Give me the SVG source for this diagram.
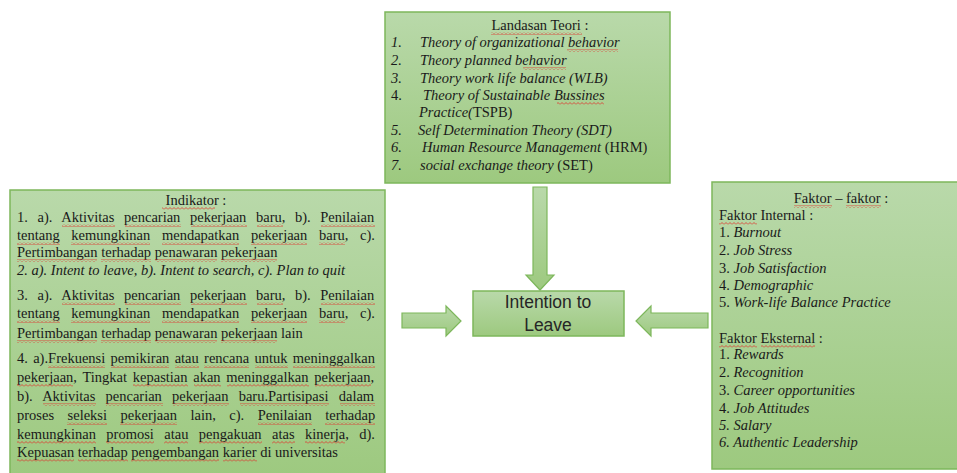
<svg xmlns="http://www.w3.org/2000/svg" width="957" height="473" viewBox="0 0 957 473">
<defs>
<linearGradient id="gf" x1="0" y1="0" x2="0" y2="1">
<stop offset="0" stop-color="#b9d9aa"/>
<stop offset="1" stop-color="#9dc97f"/>
</linearGradient>
<pattern id="sq" patternUnits="userSpaceOnUse" width="4" height="3">
<polyline points="0,2.5 2,0.5 4,2.5" fill="none" stroke="#e0302a" stroke-width="0.8"/>
</pattern>
<style>
.box{fill:url(#gf);stroke:#7db75b;stroke-width:1.5}
.arr{fill:url(#gf);stroke:#7db75b;stroke-width:1.2}
text{font-family:"Liberation Serif","Times New Roman",serif;font-size:14.5px;fill:#1a1a1a}
.i{font-style:italic}
.c{text-anchor:middle}
.e{text-anchor:end}
.ct{font-family:"Liberation Sans",Arial,sans-serif;font-size:17.5px;fill:#262626;text-anchor:middle}
.s{fill:url(#sq)}
</style>
</defs>

<g id="connectors">
<polygon class="arr" points="533,187 547,187 547,275 554,275 540,290 526,275 533,275"/>
<polygon class="arr" points="402,313 446,313 446,306 461,321 446,336 446,328 402,328"/>
<polygon class="arr" points="708,313 651,313 651,306 636,321 651,336 651,328 708,328"/>
</g>

<g id="landasan-teori">
<rect class="box" x="385" y="12" width="285" height="171"/>
<text class="c" x="540" y="30">Landasan Teori :</text>
<text class="i" x="391" y="47">1.</text><text class="i" x="420" y="47">Theory of organizational behavior</text>
<text class="i" x="391" y="65">2.</text><text class="i" x="420" y="65">Theory planned behavior</text>
<text class="i" x="391" y="83">3.</text><text class="i" x="420" y="83">Theory work life balance (WLB)</text>
<text x="391" y="100">4.</text><text class="i" x="423" y="100">Theory of Sustainable Bussines</text>
<text x="419" y="117"><tspan class="i">Practice(</tspan>TSPB)</text>
<text class="i" x="391" y="135">5.</text><text class="i" x="418" y="135">Self Determination Theory (SDT)</text>
<text class="i" x="391" y="152">6.</text><text x="422" y="152"><tspan class="i">Human Resource Management</tspan> (HRM)</text>
<text class="i" x="391" y="170">7.</text><text x="420" y="170"><tspan class="i">social exchange theory</tspan> (SET)</text>
<rect class="s" x="491" y="32" width="91" height="3"/>
<rect class="s" x="567" y="49" width="51" height="3"/>
<rect class="s" x="523" y="67" width="43" height="3"/>
<rect class="s" x="557" y="102" width="47" height="3"/>
</g>

<g id="intention-to-leave">
<rect class="box" x="473" y="291" width="151" height="45"/>
<text class="ct" x="548" y="308">Intention to</text>
<text class="ct" x="548" y="331">Leave</text>
</g>

<g id="indikator">
<rect class="box" x="10" y="190" width="375" height="290"/>
<text class="c" x="196" y="205">Indikator :</text>
<text x="17" y="222" style="word-spacing:6px">1. a). Aktivitas pencarian pekerjaan baru, b). Penilaian</text>
<text x="17" y="240" style="word-spacing:8.05px">tentang kemungkinan mendapatkan pekerjaan baru, c).</text>
<text x="17" y="257">Pertimbangan terhadap penawaran pekerjaan</text>
<text class="i" x="17" y="275">2. a). Intent to leave, b). Intent to search, c). Plan to quit</text>
<text x="17" y="300" style="word-spacing:6px">3. a). Aktivitas pencarian pekerjaan baru, b). Penilaian</text>
<text x="17" y="318" style="word-spacing:8.05px">tentang kemungkinan mendapatkan pekerjaan baru, c).</text>
<text x="17" y="338">Pertimbangan terhadap penawaran pekerjaan lain</text>
<text x="17" y="363" style="word-spacing:1.68px">4. a).Frekuensi pemikiran atau rencana untuk meninggalkan</text>
<text x="17" y="382" style="word-spacing:2.1px">pekerjaan, Tingkat kepastian akan meninggalkan pekerjaan,</text>
<text x="17" y="401" style="word-spacing:6.6px">b). Aktivitas pencarian pekerjaan baru.Partisipasi dalam</text>
<text x="17" y="420" style="word-spacing:9.9px">proses seleksi pekerjaan lain, c). Penilaian terhadap</text>
<text x="17" y="439" style="word-spacing:6.77px">kemungkinan promosi atau pengakuan atas kinerja, d).</text>
<text x="17" y="457">Kepuasan terhadap pengembangan karier di universitas</text>
<rect class="s" x="162" y="207" width="53" height="3"/>
<rect class="s" x="62" y="224" width="53" height="3"/><rect class="s" x="125" y="224" width="56" height="3"/><rect class="s" x="191" y="224" width="56" height="3"/><rect class="s" x="257" y="224" width="26" height="3"/><rect class="s" x="321" y="224" width="54" height="3"/>
<rect class="s" x="17" y="242" width="43" height="3"/><rect class="s" x="71" y="242" width="79" height="3"/><rect class="s" x="162" y="242" width="77" height="3"/><rect class="s" x="251" y="242" width="56" height="3"/><rect class="s" x="319" y="242" width="26" height="3"/>
<rect class="s" x="17" y="259" width="80" height="3"/><rect class="s" x="101" y="259" width="50" height="3"/><rect class="s" x="155" y="259" width="62" height="3"/><rect class="s" x="221" y="259" width="56" height="3"/>
<rect class="s" x="62" y="302" width="53" height="3"/><rect class="s" x="125" y="302" width="56" height="3"/><rect class="s" x="191" y="302" width="56" height="3"/><rect class="s" x="257" y="302" width="26" height="3"/><rect class="s" x="321" y="302" width="54" height="3"/>
<rect class="s" x="17" y="320" width="43" height="3"/><rect class="s" x="71" y="320" width="79" height="3"/><rect class="s" x="162" y="320" width="77" height="3"/><rect class="s" x="251" y="320" width="56" height="3"/><rect class="s" x="319" y="320" width="26" height="3"/>
<rect class="s" x="17" y="340" width="80" height="3"/><rect class="s" x="101" y="340" width="50" height="3"/><rect class="s" x="155" y="340" width="62" height="3"/><rect class="s" x="221" y="340" width="56" height="3"/>
<rect class="s" x="48" y="365" width="57" height="3"/><rect class="s" x="111" y="365" width="58" height="3"/><rect class="s" x="175" y="365" width="24" height="3"/><rect class="s" x="204" y="365" width="45" height="3"/><rect class="s" x="255" y="365" width="33" height="3"/><rect class="s" x="293" y="365" width="82" height="3"/>
<rect class="s" x="17" y="384" width="56" height="3"/><rect class="s" x="133" y="384" width="55" height="3"/><rect class="s" x="194" y="384" width="27" height="3"/><rect class="s" x="227" y="384" width="82" height="3"/><rect class="s" x="315" y="384" width="56" height="3"/>
<rect class="s" x="43" y="403" width="53" height="3"/><rect class="s" x="106" y="403" width="57" height="3"/><rect class="s" x="173" y="403" width="56" height="3"/><rect class="s" x="240" y="403" width="89" height="3"/><rect class="s" x="340" y="403" width="35" height="3"/>
<rect class="s" x="67" y="422" width="40" height="3"/><rect class="s" x="120" y="422" width="57" height="3"/><rect class="s" x="258" y="422" width="54" height="3"/><rect class="s" x="325" y="422" width="50" height="3"/>
<rect class="s" x="17" y="441" width="79" height="3"/><rect class="s" x="106" y="441" width="48" height="3"/><rect class="s" x="164" y="441" width="24" height="3"/><rect class="s" x="199" y="441" width="63" height="3"/><rect class="s" x="272" y="441" width="23" height="3"/><rect class="s" x="305" y="441" width="40" height="3"/>
<rect class="s" x="17" y="459" width="57" height="3"/><rect class="s" x="78" y="459" width="50" height="3"/><rect class="s" x="131" y="459" width="88" height="3"/><rect class="s" x="223" y="459" width="34" height="3"/>
</g>

<g id="faktor">
<rect class="box" x="712" y="182" width="260" height="287"/>
<text class="c" x="841" y="203">Faktor – faktor :</text>
<text x="719" y="220">Faktor Internal :</text>
<text x="719" y="237">1. <tspan class="i">Burnout</tspan></text>
<text x="719" y="255">2. <tspan class="i">Job Stress</tspan></text>
<text x="719" y="273">3. <tspan class="i">Job Satisfaction</tspan></text>
<text x="719" y="290">4. <tspan class="i">Demographic</tspan></text>
<text x="719" y="307">5. <tspan class="i">Work-life Balance Practice</tspan></text>
<text x="719" y="343">Faktor Eksternal :</text>
<text x="719" y="359">1. <tspan class="i">Rewards</tspan></text>
<text x="719" y="377">2. <tspan class="i">Recognition</tspan></text>
<text x="719" y="395">3. <tspan class="i">Career opportunities</tspan></text>
<text x="719" y="413">4. <tspan class="i">Job Attitudes</tspan></text>
<text class="i" x="719" y="430">5. Salary</text>
<text class="i" x="719" y="447">6. Authentic Leadership</text>
<rect class="s" x="794" y="205" width="38" height="3"/><rect class="s" x="846" y="205" width="35" height="3"/>
<rect class="s" x="719" y="222" width="38" height="3"/>
<rect class="s" x="719" y="345" width="38" height="3"/><rect class="s" x="761" y="345" width="54" height="3"/>
</g>
</svg>
